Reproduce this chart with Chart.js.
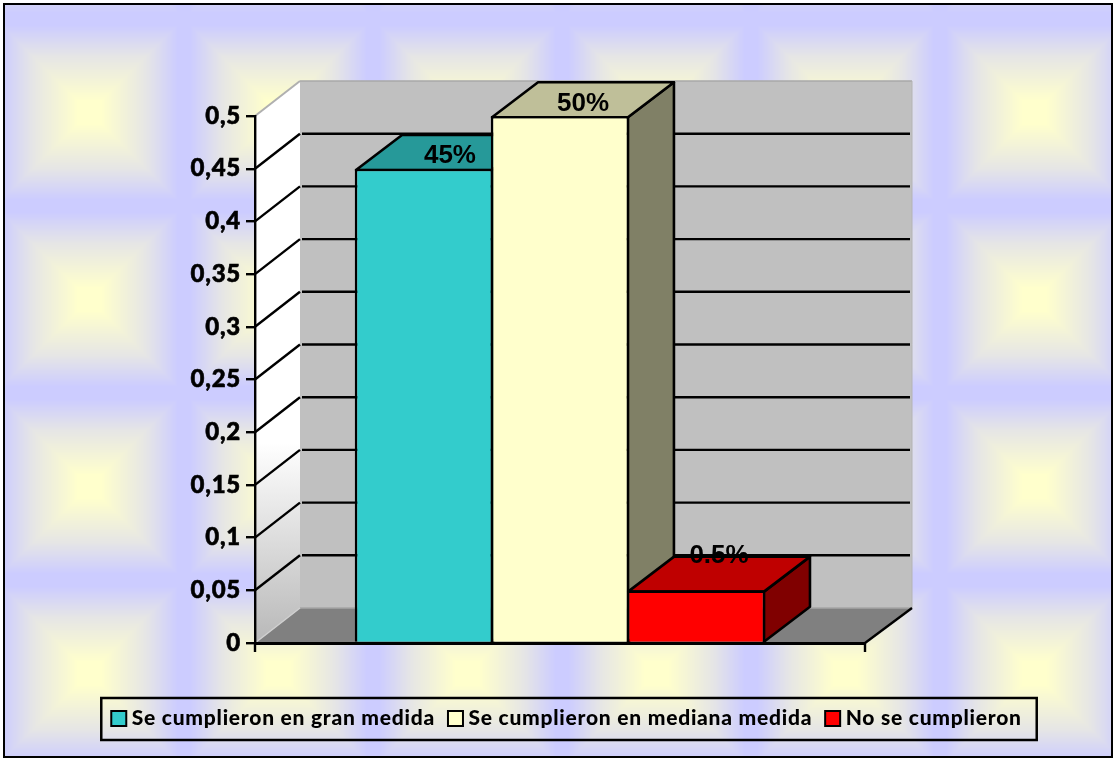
<!DOCTYPE html>
<html>
<head>
<meta charset="utf-8">
<title>Cumplimiento</title>
<script src="https://cdn.jsdelivr.net/npm/chart.js@4"></script>
<style>
    html, body { margin: 0; padding: 0; background: #fff; }
    canvas { display: block; }
</style>
</head>
<body>
<canvas id="chart" width="1116" height="760"></canvas>
<script>
const categories = [''];
const seriesNames = ['Se cumplieron en gran medida', 'Se cumplieron en mediana medida', 'No se cumplieron'];
const seriesValues = [0.45, 0.5, 0.05];
const seriesLabels = ['45%', '50%', '0.5%'];
const seriesColors = ['#33CCCC', '#FFFFCC', '#FF0000'];
const yTickValues = [0, 0.05, 0.1, 0.15, 0.2, 0.25, 0.3, 0.35, 0.4, 0.45, 0.5];
const yTickLabels = ['0', '0,05', '0,1', '0,15', '0,2', '0,25', '0,3', '0,35', '0,4', '0,45', '0,5'];

// 3d look: how far the back wall sits from the front plane
const DEPTH_X = 46;
const DEPTH_Y = 35;
// where each value label sits relative to the top front edge of its bar
const labelOffsetX = [26, 23, 23];
const labelOffsetY = [-13, -12, -34];
const TEXT_SPACING = '0.75px';

function shade(hex, f) {
    const n = parseInt(hex.slice(1), 16);
    const r = Math.round((n >> 16 & 255) * f);
    const g = Math.round((n >> 8 & 255) * f);
    const b = Math.round((n & 255) * f);
    return `rgb(${r},${g},${b})`;
}

function polygon(ctx, pts, fill, stroke, width) {
    ctx.beginPath();
    pts.forEach((p, i) => i ? ctx.lineTo(p[0], p[1]) : ctx.moveTo(p[0], p[1]));
    ctx.closePath();
    if (fill) {
        ctx.fillStyle = fill;
        ctx.fill();
    }
    if (stroke) {
        ctx.strokeStyle = stroke;
        ctx.lineWidth = width;
        ctx.stroke();
    }
}

function line(ctx, x1, y1, x2, y2, color, width) {
    ctx.beginPath();
    ctx.moveTo(x1, y1);
    ctx.lineTo(x2, y2);
    ctx.strokeStyle = color;
    ctx.lineWidth = width;
    ctx.stroke();
}

// one tile of the lavender and yellow backdrop, a square path gradient
function makeTile(w, h) {
    const tile = document.createElement('canvas');
    tile.width = w;
    tile.height = h;
    const tctx = tile.getContext('2d');
    const img = tctx.createImageData(w, h);
    for (let y = 0; y < h; y++) {
        for (let x = 0; x < w; x++) {
            const dx = Math.abs(x + 0.5 - w / 2) / (w / 2);
            const dy = Math.abs(y + 0.5 - h / 2) / (h / 2);
            const d = Math.max(dx, dy);
            const t = d < 0.6 ? Math.max(0, (d - 0.12) / 0.96) : Math.min(1, 0.5 + (d - 0.6) * 1.5);
            const i = (y * w + x) * 4;
            img.data[i] = 255 - 51 * t;
            img.data[i + 1] = 255 - 51 * t;
            img.data[i + 2] = 204 + 51 * t;
            img.data[i + 3] = 255;
        }
    }
    tctx.putImageData(img, 0, 0);
    return tile;
}

const backdrop = {
    id: 'backdrop',
    beforeLayout(chart) {
        chart.ctx.letterSpacing = TEXT_SPACING;
    },
    beforeDraw(chart) {
        const ctx = chart.ctx;
        const { left, right, top, bottom } = chart.chartArea;
        ctx.letterSpacing = TEXT_SPACING;
        ctx.save();

        ctx.save();
        ctx.beginPath();
        ctx.rect(4, 4, 1108, 753);
        ctx.clip();
        ctx.translate(-5, 19);
        ctx.fillStyle = ctx.createPattern(makeTile(189, 187), 'repeat');
        ctx.fillRect(0, -19, 1125, 790);
        ctx.restore();

        ctx.strokeStyle = '#000';
        ctx.lineWidth = 2;
        ctx.strokeRect(4, 4, 1108, 753);

        const backL = left + DEPTH_X - 1;
        const backR = right + DEPTH_X + 1;
        const backT = top - DEPTH_Y;
        const backB = bottom - DEPTH_Y;

        polygon(ctx, [[backL, backT], [backR, backT], [backR, backB], [backL, backB]], '#C0C0C0');
        line(ctx, backL, backT, backR, backT, '#A8A8A8', 1.5);
        line(ctx, backR, backT, backR, backB, '#B4B4B4', 1);

        const wall = ctx.createLinearGradient(0, top, 0, bottom);
        wall.addColorStop(0, '#FFFFFF');
        wall.addColorStop(0.62, '#FFFFFF');
        wall.addColorStop(1, '#B8B8B8');
        polygon(ctx, [[left, top], [backL, backT], [backL, backB], [left, bottom]], wall);
        line(ctx, left, top, backL, backT, '#B0B0B0', 2);

        polygon(ctx, [[left, bottom], [backL, backB], [backR, backB], [right, bottom]], '#808080');
        line(ctx, backL, backB, backR, backB, '#A6A6A6', 1.5);
        line(ctx, left, bottom, backL, backB, '#D0D0D0', 1.5);
        line(ctx, right, bottom, backR, backB, '#000', 2.4);

        const yScale = chart.scales.y;
        yScale.ticks.forEach(t => {
            if (t.value === 0 || t.value === 0.5) return;
            const y = yScale.getPixelForValue(t.value);
            line(ctx, left, y, backL, y - DEPTH_Y, '#000', 2.4);
            line(ctx, backL + 2, y - DEPTH_Y, backR - 2, y - DEPTH_Y, '#000', 2.4);
        });

        // the end ticks of the x axis
        line(ctx, left, bottom, left, bottom + 9, '#000', 2.4);
        line(ctx, right, bottom, right, bottom + 9, '#000', 2.4);
        ctx.restore();
    },
    beforeDatasetsDraw(chart) {
        const ctx = chart.ctx;
        ctx.save();
        ctx.lineJoin = 'round';
        seriesValues.forEach((v, i) => {
            const bar = chart.getDatasetMeta(i).data[0];
            const l = bar.x - bar.width / 2 + 1.3;
            const r = bar.x + bar.width / 2 - 1.3;
            const t = bar.y + 1.3;
            const b = bar.base;
            polygon(ctx, [[r, t], [r + DEPTH_X, t - DEPTH_Y], [r + DEPTH_X, b - DEPTH_Y], [r, b]],
                shade(seriesColors[i], 0.5), '#000', 2.6);
            polygon(ctx, [[l, t], [l + DEPTH_X, t - DEPTH_Y], [r + DEPTH_X, t - DEPTH_Y], [r, t]],
                shade(seriesColors[i], 0.75), '#000', 2.6);
        });
        ctx.restore();
    },
    afterDraw(chart) {
        const ctx = chart.ctx;
        ctx.save();
        ctx.letterSpacing = '0px';
        ctx.font = 'bold 26px "Liberation Sans"';
        ctx.fillStyle = '#000';
        ctx.textAlign = 'center';
        ctx.textBaseline = 'middle';
        seriesLabels.forEach((label, i) => {
            const bar = chart.getDatasetMeta(i).data[0];
            ctx.fillText(label, bar.x + labelOffsetX[i], bar.y + labelOffsetY[i]);
        });

        // legend frame, and swatches that reach past the narrow box the legend reserves
        const legend = chart.legend;
        const boxes = legend.legendHitBoxes;
        const last = boxes[boxes.length - 1];
        const boxL = boxes[0].left - 15;
        const boxR = last.left + last.width + 15;
        const midY = legend.top + legend.height / 2;
        ctx.strokeStyle = '#000';
        ctx.lineWidth = 2.5;
        ctx.strokeRect(boxL, midY + 4.5 - 21, boxR - boxL, 42);
        boxes.forEach((hit, i) => {
            const y = hit.top + (hit.height - 15) / 2;
            ctx.fillStyle = seriesColors[i];
            ctx.fillRect(hit.left - 5, y, 15, 15);
            ctx.lineWidth = 2;
            ctx.strokeRect(hit.left - 5, y, 15, 15);
        });
        ctx.restore();
    }
};

new Chart(document.getElementById('chart'), {
    type: 'bar',
    data: {
        labels: categories,
        datasets: seriesNames.map((name, i) => ({
            label: name,
            data: [seriesValues[i]],
            backgroundColor: seriesColors[i],
            borderColor: '#000',
            borderWidth: 2.6,
            borderSkipped: 'bottom',
            barPercentage: 1.018,
            categoryPercentage: 0.669
        }))
    },
    options: {
        responsive: false,
        animation: false,
        layout: { padding: { top: 116, bottom: 21, left: 22 } },
        plugins: {
            tooltip: { enabled: false },
            legend: {
                position: 'bottom',
                labels: {
                    boxWidth: 5,
                    boxHeight: 10,
                    padding: 18,
                    color: '#000',
                    font: { family: 'Lato', size: 21, weight: '900' }
                }
            }
        },
        scales: {
            x: {
                grid: { display: false },
                border: { color: '#000', width: 3, z: 1 },
                ticks: { display: false },
                afterFit: s => { s.height = 47; }
            },
            y: {
                min: 0,
                max: 0.5,
                afterBuildTicks: s => { s.ticks = yTickValues.map(value => ({ value })); },
                grid: { drawOnChartArea: false, color: '#000', lineWidth: 2.4, tickLength: 9 },
                border: { color: '#000', width: 2.4 },
                ticks: {
                    autoSkip: false,
                    padding: 5,
                    color: '#000',
                    textStrokeColor: '#000',
                    textStrokeWidth: 0.6,
                    font: { family: 'Lato', size: 24, weight: '900' },
                    callback: (value, i) => yTickLabels[i]
                },
                afterFit: s => { s.width = 233; }
            },
            // keeps the room to the right of the plot without narrowing the legend
            spacer: {
                position: 'right',
                grid: { display: false },
                border: { display: false },
                ticks: { display: false },
                afterFit: s => { s.width = 251; }
            }
        }
    },
    plugins: [backdrop]
});
</script>
</body>
</html>
